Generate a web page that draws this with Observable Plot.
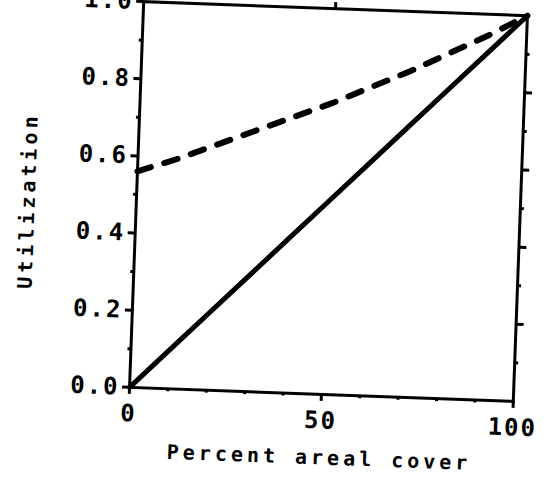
<!DOCTYPE html>
<html>
<head>
<meta charset="utf-8">
<script src="https://cdn.jsdelivr.net/npm/d3@7"></script>
<script src="https://cdn.jsdelivr.net/npm/@observablehq/plot@0.6"></script>
<style>
  html, body { margin: 0; padding: 0; background: #fff; }
  #chart svg { display: block; transform: rotate(2.1deg); transform-origin: 328px 201px; }
</style>
</head>
<body>
<div id="chart"></div>
<script>
// Percent areal cover (x) vs Utilization (y)
const cover = [0, 10, 20, 30, 40, 50, 60, 70, 80, 90, 100];
const solidUtil = [0, 0.1, 0.2, 0.3, 0.4, 0.5, 0.6, 0.7, 0.8, 0.9, 1.0];
const dashedUtil = [0.56, 0.595, 0.635, 0.675, 0.715, 0.755, 0.80, 0.845, 0.895, 0.945, 1.0];

const yTicks = [0, 0.2, 0.4, 0.6, 0.8, 1.0];
const yMinor = [0.1, 0.3, 0.5, 0.7, 0.9];
const xTicks = [0, 50, 100];
const xMinor = [10, 20, 30, 40, 60, 70, 80, 90];
const xTitle = "Percent areal cover";
const yTitle = "Utilization";

const solid = cover.map((c, i) => ({x: c, y: solidUtil[i]}));
const dashed = cover.map((c, i) => ({x: c, y: dashedUtil[i]}));

const chart = Plot.plot({
  width: 550,
  height: 486,
  marginLeft: 136,
  marginRight: 30,
  marginTop: 8,
  marginBottom: 92,
  x: {domain: [0, 100]},
  y: {domain: [0, 1]},
  style: {fontFamily: "'DejaVu Sans Mono', monospace", fontWeight: "bold", fontSize: "24px", color: "#000", background: "#fff"},
  marks: [
    Plot.frame({stroke: "#000", strokeWidth: 3}),
    Plot.axisY({anchor: "left", ticks: yTicks, tickSize: 7, tickPadding: 3, tickFormat: d3.format(".1f"), strokeWidth: 3, label: null, fontSize: 24}),
    Plot.axisY({anchor: "left", ticks: yMinor, tickSize: 3, tickFormat: () => "", strokeWidth: 3, label: null}),
    Plot.axisY({anchor: "right", ticks: yTicks.slice(1, 5), tickSize: 7, tickFormat: () => "", strokeWidth: 3, label: null}),
    Plot.axisY({anchor: "right", ticks: yMinor, tickSize: 3, tickFormat: () => "", strokeWidth: 3, label: null}),
    Plot.axisX({anchor: "bottom", ticks: xTicks, tickSize: 7, tickPadding: 10, tickFormat: d => String(d), strokeWidth: 3, label: null, fontSize: 24}),
    Plot.axisX({anchor: "bottom", ticks: xMinor, tickSize: 3, tickFormat: () => "", strokeWidth: 3, label: null}),
    Plot.axisX({anchor: "top", ticks: [50], tickSize: 7, tickFormat: () => "", strokeWidth: 3, label: null}),
    Plot.line(solid, {x: "x", y: "y", stroke: "#000", strokeWidth: 5, strokeLinecap: "round"}),
    Plot.line(dashed, {x: "x", y: "y", stroke: "#000", strokeWidth: 6, strokeDasharray: "14,14", strokeLinecap: "round"}),
    Plot.text([xTitle], {frameAnchor: "bottom", textAnchor: "middle", dy: 70, fontSize: 20, fill: "#000", text: d => d}),
    Plot.text([yTitle], {frameAnchor: "left", textAnchor: "middle", dx: -108, dy: 10, rotate: -90, fontSize: 20, fill: "#000", text: d => d})
  ]
});

d3.select(chart).selectAll("text").each(function() {
  const t = this.textContent;
  if (t === xTitle || t === yTitle) d3.select(this).style("letter-spacing", "4px");
  else d3.select(this).style("letter-spacing", "2px");
});

document.getElementById("chart").appendChild(chart);
</script>
</body>
</html>
